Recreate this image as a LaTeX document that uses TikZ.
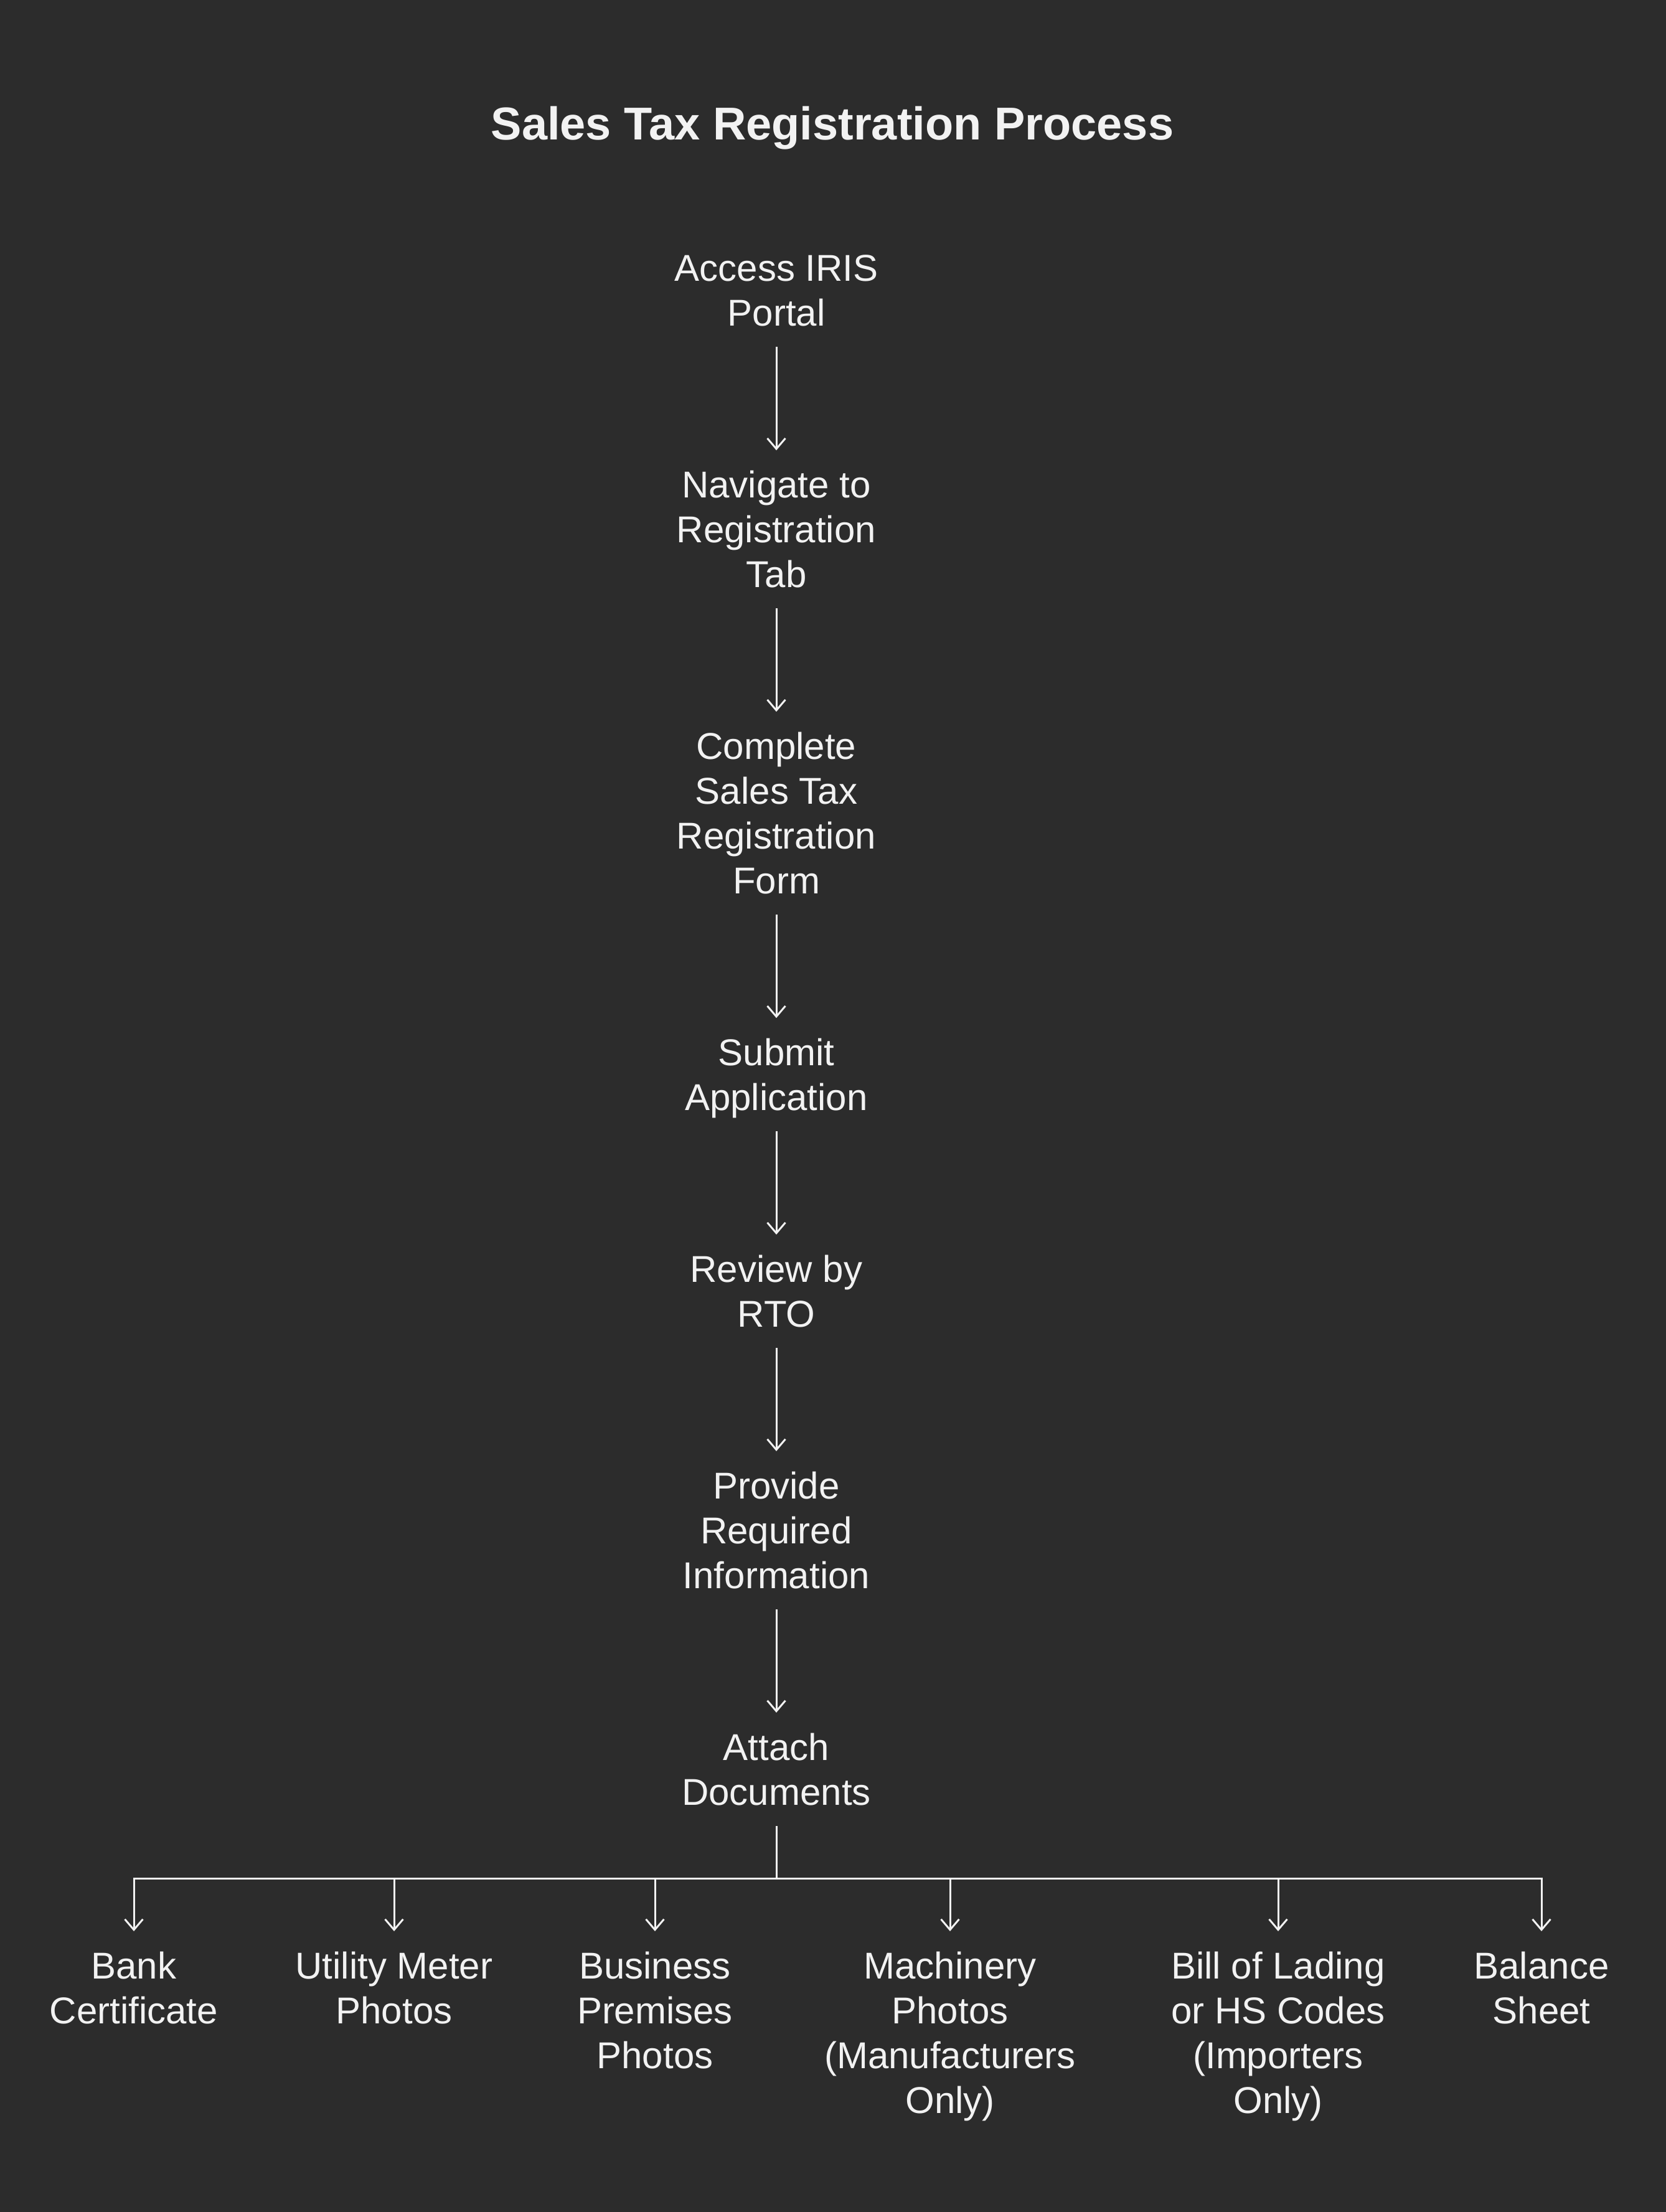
\documentclass[tikz,border=0pt]{standalone}
\usepackage{fontspec}
\setmainfont{Liberation Sans}
\usepackage{xcolor}
\usepackage{tikz}
\usetikzlibrary{positioning,arrows.meta}
\definecolor{bgdark}{HTML}{2C2C2C}
\definecolor{inkwhite}{HTML}{F2F2F2}
\tikzset{
  stepnode/.style = {align=center, text=inkwhite, inner sep=0.2cm,
                     font=\fontsize{17.07pt}{20.49pt}\selectfont,
                     execute at end node={\rule[-0.13cm]{0pt}{0pt}}},
  docnode/.style  = {stepnode, anchor=north},
  heading/.style  = {text=inkwhite, font=\fontsize{21.05pt}{25pt}\selectfont\bfseries},
  arrow/.style    = {-{Straight Barb[length=0.17cm,width=0.29cm]}, draw=inkwhite,
                     line width=0.03cm, shorten >=0.12cm},
  link/.style     = {draw=inkwhite, line width=0.03cm},
}

\begin{document}
\begin{tikzpicture}[node distance=1.78cm]
  \fill[bgdark] (0,0) rectangle (26.76,-35.53);
  \useasboundingbox (0,0) rectangle (26.76,-35.53);

  \node[heading, anchor=base] (title) at (13.37,-2.24) {Sales Tax Registration Process};

  % main chain
  \node[stepnode, anchor=north] (access) at (12.47,-3.89) {Access IRIS\\Portal};
  \node[stepnode, below=of access] (nav)    {Navigate to\\Registration\\Tab};
  \node[stepnode, below=of nav]    (form)   {Complete\\Sales Tax\\Registration\\Form};
  \node[stepnode, below=of form]   (submit) {Submit\\Application};
  \node[stepnode, below=of submit] (review) {Review by\\RTO};
  \node[stepnode, below=of review] (info)   {Provide\\Required\\Information};
  \node[stepnode, below=of info]   (docs)   {Attach\\Documents};
  \draw[arrow] (access) -- (nav);
  \draw[arrow] (nav)    -- (form);
  \draw[arrow] (form)   -- (submit);
  \draw[arrow] (submit) -- (review);
  \draw[arrow] (review) -- (info);
  \draw[arrow] (info)   -- (docs);

  % documents to attach
  \coordinate[below=0.85cm of docs] (bar);
  \node[docnode] (bank)  at (2.15,-31.14)  {Bank\\Certificate};
  \node[docnode] (meter) at (6.33,-31.14)  {Utility Meter\\Photos};
  \node[docnode] (prem)  at (10.52,-31.14) {Business\\Premises\\Photos};
  \node[docnode] (mach)  at (15.26,-31.14) {Machinery\\Photos\\(Manufacturers\\Only)};
  \node[docnode] (bill)  at (20.53,-31.14) {Bill of Lading\\or HS Codes\\(Importers\\Only)};
  \node[docnode] (bal)   at (24.76,-31.14) {Balance\\Sheet};
  \draw[link] (docs) -- (bar);
  \draw[arrow] (bar) -| (bank.north);
  \draw[arrow] (bar) -| (meter.north);
  \draw[arrow] (bar) -| (prem.north);
  \draw[arrow] (bar) -| (mach.north);
  \draw[arrow] (bar) -| (bill.north);
  \draw[arrow] (bar) -| (bal.north);
\end{tikzpicture}
\end{document}
